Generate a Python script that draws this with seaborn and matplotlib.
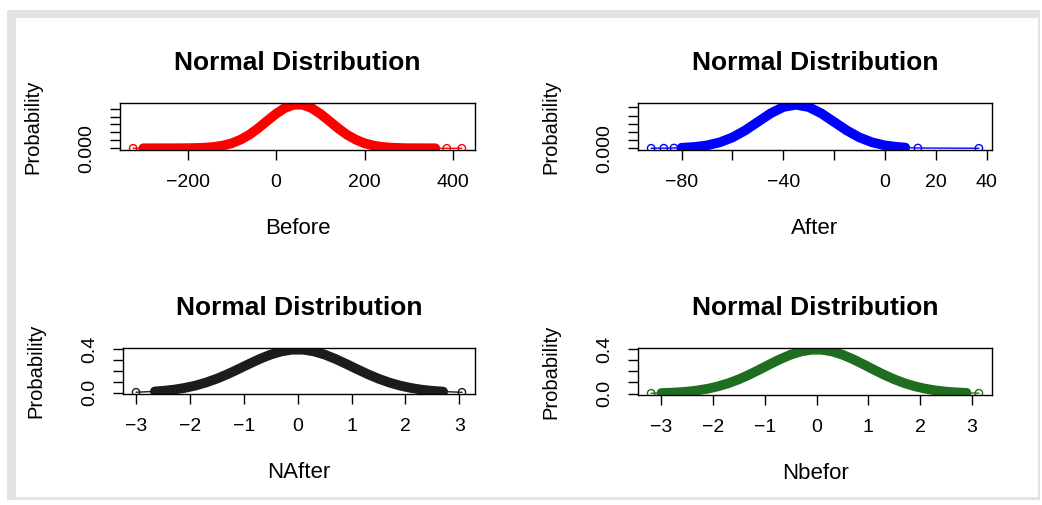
import seaborn as sns
import matplotlib.pyplot as plt
from matplotlib.patches import Rectangle

before_x = [-323, -300, -280, -250, -220, -200, -180, -160, -140, -120, -100, -80, -60, -40, -20, 0,
            20, 40, 60, 80, 100, 120, 140, 160, 180, 200, 220, 240, 260, 280, 300, 330, 360, 386, 420]
before_p = [0.0, 0.0, 0.0, 0.000001, 0.000005, 0.000013, 0.000034, 0.000079, 0.00017, 0.00034, 0.00063,
            0.00109, 0.00172, 0.00254, 0.00346, 0.00435, 0.00508, 0.00549, 0.00549, 0.00508, 0.00435,
            0.00346, 0.00254, 0.00172, 0.00109, 0.00063, 0.00034, 0.00017, 0.00008, 0.00003, 0.00001,
            0.000003, 0.0, 0.0, 0.0]

after_x = [-92, -87, -83, -80, -75, -70, -65, -60, -55, -50, -45, -40, -35, -30, -25, -20, -15, -10,
           -5, 0, 5, 8, 13, 37]
after_p = [0.00002, 0.00006, 0.00016, 0.0003, 0.00076, 0.00175, 0.0036, 0.0066, 0.0109, 0.0161, 0.0213,
           0.0252, 0.0266, 0.0252, 0.0213, 0.0161, 0.0109, 0.0066, 0.0036, 0.00175, 0.00076, 0.00044,
           0.00016, 0.0]

nafter_x = [-3.0, -2.65, -2.5, -2.3, -2.1, -1.9, -1.7, -1.5, -1.3, -1.1, -0.9, -0.7, -0.5, -0.3, -0.1,
            0.1, 0.3, 0.5, 0.7, 0.9, 1.1, 1.3, 1.5, 1.7, 1.9, 2.1, 2.3, 2.5, 2.7, 3.05]
nafter_p = [0.0044, 0.0119, 0.0175, 0.0283, 0.0440, 0.0656, 0.0940, 0.1295, 0.1714, 0.2179, 0.2661,
            0.3123, 0.3521, 0.3814, 0.3970, 0.3970, 0.3814, 0.3521, 0.3123, 0.2661, 0.2179, 0.1714,
            0.1295, 0.0940, 0.0656, 0.0440, 0.0283, 0.0175, 0.0104, 0.0038]

nbefor_x = [-3.2, -3.0, -2.8, -2.6, -2.45, -2.3, -2.1, -1.9, -1.7, -1.5, -1.3, -1.1, -0.9, -0.7, -0.5,
            -0.3, -0.1, 0.1, 0.3, 0.5, 0.7, 0.9, 1.1, 1.3, 1.5, 1.7, 1.9, 2.1, 2.3, 2.5, 2.7, 2.9, 3.14]
nbefor_p = [0.0024, 0.0044, 0.0079, 0.0136, 0.0198, 0.0283, 0.0440, 0.0656, 0.0940, 0.1295, 0.1714,
            0.2179, 0.2661, 0.3123, 0.3521, 0.3814, 0.3970, 0.3970, 0.3814, 0.3521, 0.3123, 0.2661,
            0.2179, 0.1714, 0.1295, 0.0940, 0.0656, 0.0440, 0.0283, 0.0175, 0.0104, 0.0060, 0.0029]

sns.set_style("white")
plt.rcParams['font.family'] = ['Liberation Sans', 'DejaVu Sans']
plt.rcParams['text.color'] = 'black'
plt.rcParams['axes.labelcolor'] = 'black'
plt.rcParams['xtick.color'] = 'black'
plt.rcParams['ytick.color'] = 'black'

W, H = 1042, 505
fig = plt.figure(figsize=(W / 100, H / 100), dpi=100)

# light grey frame like the screenshot border
fig.add_artist(Rectangle((7 / W, 1 - 500 / H), 1033 / W, 490 / H, transform=fig.transFigure,
                         facecolor='#e3e3e3', edgecolor='none', zorder=0))
fig.add_artist(Rectangle((16 / W, 1 - 497 / H), 1022 / W, 479 / H, transform=fig.transFigure,
                         facecolor='white', edgecolor='none', zorder=0))

def rect(x0, y0, x1, y1):
    return [x0 / W, 1 - y1 / H, (x1 - x0) / W, (y1 - y0) / H]

panels = [
    (rect(120, 103, 475, 150), before_x, before_p, 'red', 'Before',
     [-200, 0, 200, 400], ['\u2212200', '0', '200', '400'],
     [0, 0.001, 0.002, 0.003, 0.004, 0.005], ['0.000', '', '', '', '', ''], slice(1, -2)),
    (rect(638, 103, 992, 150), after_x, after_p, 'blue', 'After',
     [-80, -60, -40, -20, 0, 20, 40], ['\u221280', '', '\u221240', '', '0', '20', '40'],
     [0, 0.005, 0.01, 0.015, 0.02, 0.025], ['0.000', '', '', '', '', ''], slice(3, -2)),
    (rect(123, 348, 475, 394), nafter_x, nafter_p, '#1c1c1c', 'NAfter',
     [-3, -2, -1, 0, 1, 2, 3], ['\u22123', '\u22122', '\u22121', '0', '1', '2', '3'],
     [0, 0.1, 0.2, 0.3, 0.4], ['0.0', '', '', '', '0.4'], slice(1, -1)),
    (rect(638, 348, 992, 395), nbefor_x, nbefor_p, '#1f6e1f', 'Nbefor',
     [-3, -2, -1, 0, 1, 2, 3], ['\u22123', '\u22122', '\u22121', '0', '1', '2', '3'],
     [0, 0.1, 0.2, 0.3, 0.4], ['0.0', '', '', '', '0.4'], slice(1, -1)),
]

for box, xs, ps, col, xlab, xt, xtl, yt, ytl, band in panels:
    ax = fig.add_axes(box)
    # thin connecting line, thick band where points crowd, open circles on top
    sns.lineplot(x=xs, y=ps, ax=ax, color=col, lw=1, sort=False)
    sns.lineplot(x=xs[band], y=ps[band], ax=ax, color=col, lw=7, sort=False,
                 solid_capstyle='round')
    sns.scatterplot(x=xs, y=ps, ax=ax, marker='o', s=28)
    pts = ax.collections[-1]
    pts.set_facecolor('none')
    pts.set_edgecolor(col)
    pts.set_linewidth(1)
    ax.margins(x=0.04, y=0.04)

    ax.set_xticks(xt)
    ax.set_xticklabels(xtl)
    ax.set_yticks(yt)
    ax.set_yticklabels(ytl, rotation=90, va='center')
    ax.tick_params(direction='out', length=7.5, width=1, colors='black', labelsize=14, pad=10,
                   left=True, bottom=True)
    for sp in ax.spines.values():
        sp.set_color('black')
        sp.set_linewidth(1)
    ax.set_title('Normal Distribution', fontsize=19, fontweight='bold', pad=24)
    ax.set_xlabel(xlab, fontsize=16, labelpad=19)
    ax.set_ylabel('Probability', fontsize=14.5, labelpad=26)

fig.savefig('out.png', dpi=100)
